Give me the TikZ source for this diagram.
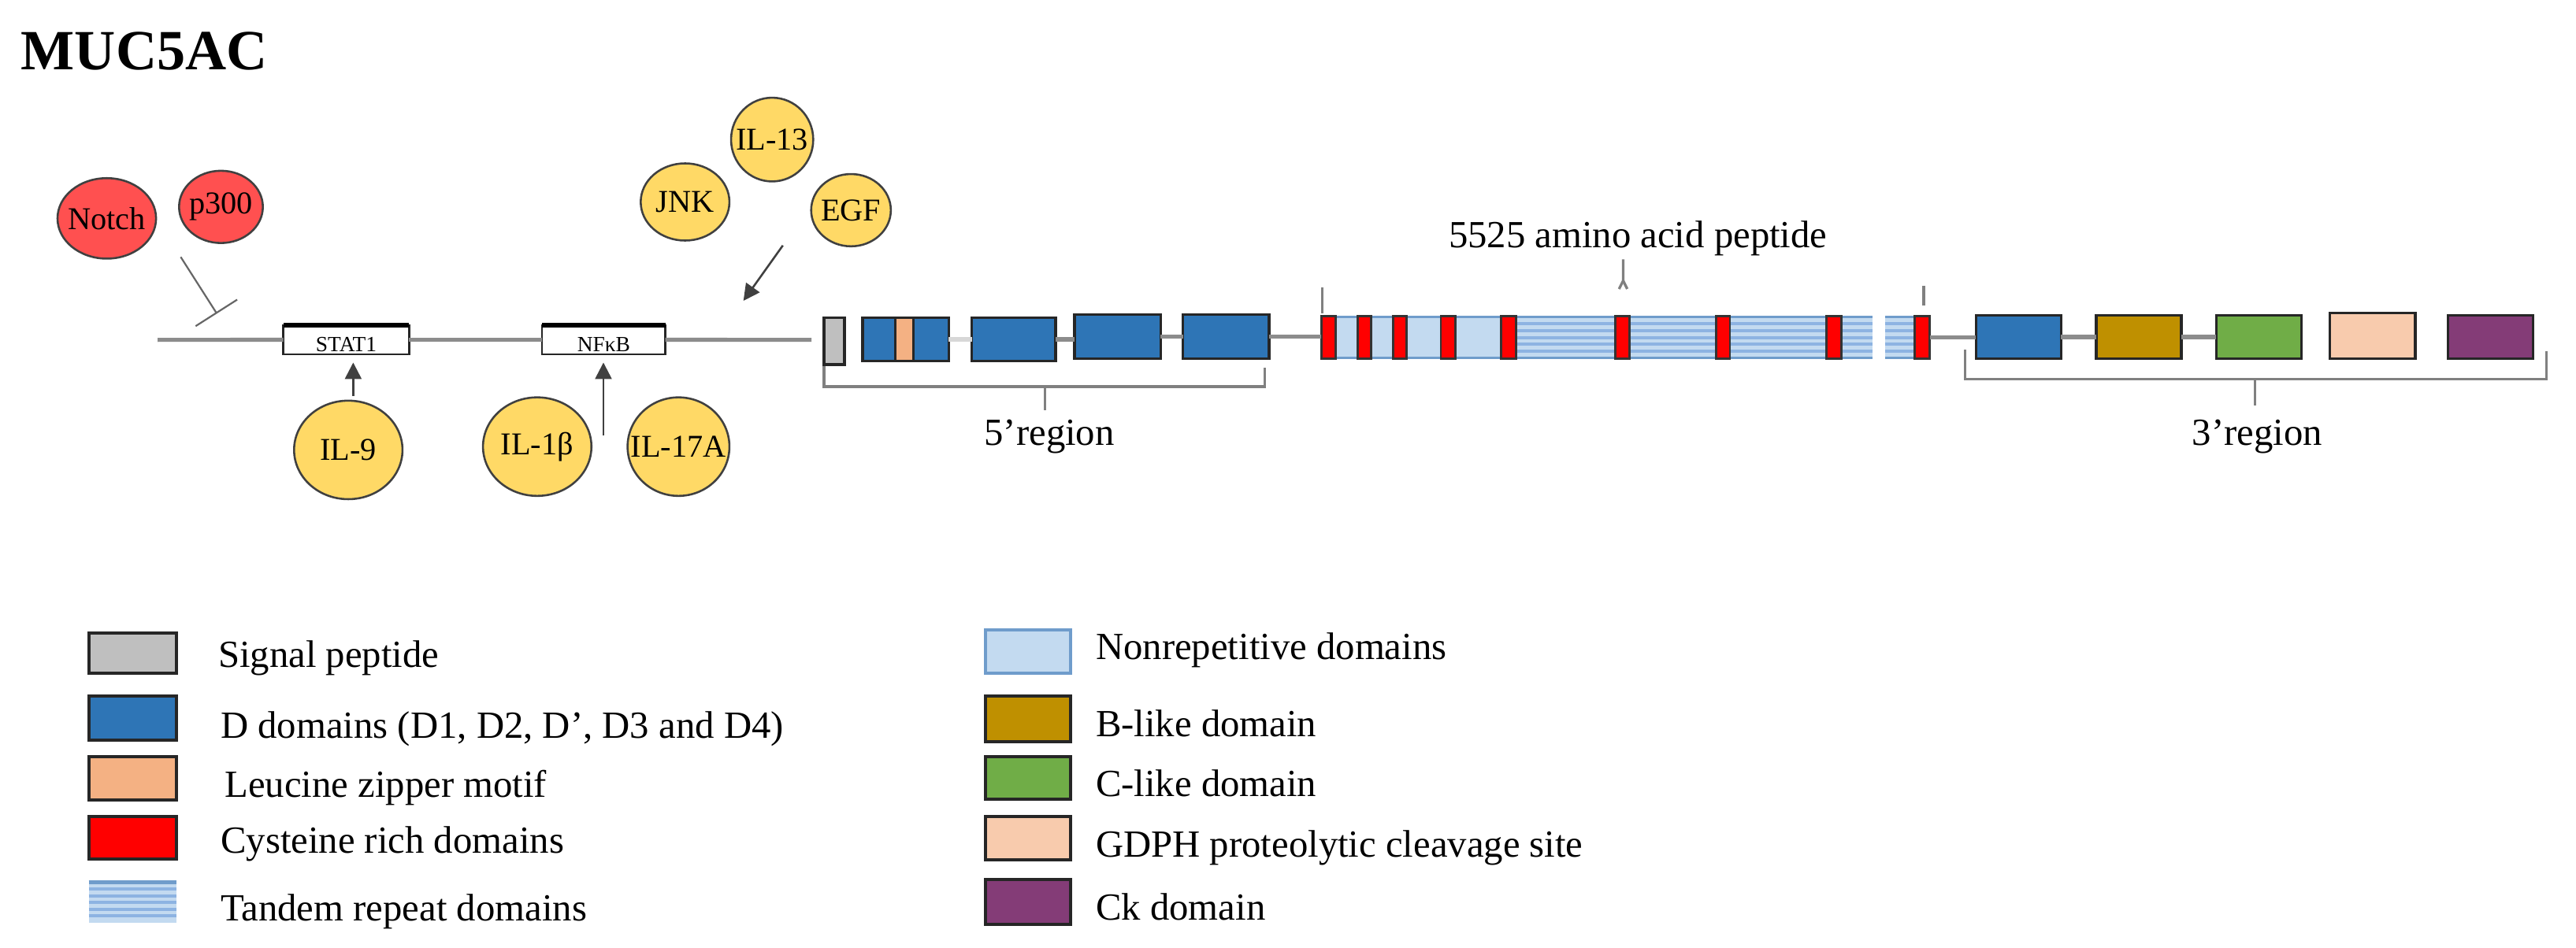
\documentclass[tikz,border=0pt]{standalone}
\usepackage{fontspec}
\setmainfont{Liberation Serif}
\usetikzlibrary{shapes.geometric,arrows.meta}
\definecolor{redc}{HTML}{FF5050}
\definecolor{yelc}{HTML}{FFD966}
\definecolor{dblue}{HTML}{2E75B6}
\definecolor{sgray}{HTML}{BFBFBF}
\definecolor{lzip}{HTML}{F4B183}
\definecolor{lblue}{HTML}{C3DAF0}
\definecolor{sblue}{HTML}{8DB3E2}
\definecolor{eblue}{HTML}{6F9CCB}
\definecolor{bgold}{HTML}{BF9000}
\definecolor{cgreen}{HTML}{70AD47}
\definecolor{gpeach}{HTML}{F8CBAD}
\definecolor{ckpurp}{HTML}{843C77}
\definecolor{gline}{HTML}{8C8C8C}
\newcommand{\mybox}[6]{\node[boxbase,#6,minimum width={(#4-#2)*0.02cm},minimum height={(#5-#3)*0.02cm}] (#1) at ({(#2+#4)/2},{(#3+#5)/2}) {};}
\newcommand{\mystripes}[4]{\foreach \k in {1,...,5}{\draw[stripe] (#1,{#3+\k*(#4-#3)/6}) -- (#2,{#3+\k*(#4-#3)/6});}}
\tikzset{
  boxbase/.style={rectangle, inner sep=0pt, outer sep=0pt},
  dom/.style={draw=black!85, line width=0.9pt},
  leg/.style={draw=black!85, line width=1.1pt},
  circR/.style={ellipse, draw=black!75, line width=0.7pt, fill=redc, inner sep=0pt, font=\fontsize{11}{12}\selectfont},
  circY/.style={ellipse, draw=black!75, line width=0.7pt, fill=yelc, inner sep=0pt, font=\fontsize{11}{12}\selectfont},
  geneline/.style={draw=gline, line width=1.4pt},
  faintline/.style={draw=gline!35, line width=1.4pt},
  brk/.style={draw=black!50, line width=0.9pt},
  arr/.style={-{Triangle[width=0.2cm,length=0.2cm]}, draw=black!75, line width=0.7pt},
  inh/.style={-{Bar[width=0.6cm]}, draw=black!60, line width=0.6pt},
  lbl/.style={font=\fontsize{13.3}{16}\selectfont, inner sep=0pt, anchor=base west},
  clbl/.style={font=\fontsize{13.3}{16}\selectfont, inner sep=0pt, anchor=base},
  tf/.style={draw=black!85, line width=0.7pt, fill=white},
  tft/.style={font=\fontsize{7.5}{8}\selectfont, inner sep=0pt, anchor=base},
  stripe/.style={draw=sblue, line width=1.1pt},
  repedge/.style={draw=eblue, line width=0.8pt},
  cys/.style={draw=black!80, fill=red, line width=0.8pt},
}
\begin{document}
\begin{tikzpicture}[x=0.02cm,y=-0.02cm]
\useasboundingbox (0,0) rectangle (1568,577);
\fill[white] (0,0) rectangle (1568,577);

% title
\node[anchor=base west, inner sep=0pt, font=\bfseries\fontsize{19.7}{22}\selectfont] (title) at (12.5,42.4) {MUC5AC};

% regulators
\node[circR, minimum width=60*0.02cm, minimum height=49*0.02cm] (notch) at (65,133) {\makebox[0pt]{Notch}};
\node[circR, minimum width=51*0.02cm, minimum height=44*0.02cm] (p300) at (134.5,126) {\makebox[0pt]{p300}};
\node[circY, minimum width=50*0.02cm, minimum height=51*0.02cm] (il13) at (470,85) {\makebox[0pt]{IL-13}};
\node[circY, minimum width=54*0.02cm, minimum height=47*0.02cm] (jnk) at (417,123) {\makebox[0pt]{JNK}};
\node[circY, minimum width=48.5*0.02cm, minimum height=44*0.02cm] (egf) at (518,128) {\makebox[0pt]{EGF}};
\node[circY, minimum width=66*0.02cm, minimum height=60*0.02cm] (il9) at (212,274) {\makebox[0pt]{IL-9}};
\node[circY, minimum width=66*0.02cm, minimum height=60*0.02cm] (il1b) at (327,272) {\makebox[0pt]{IL-1β}};
\node[circY, minimum width=62*0.02cm, minimum height=60*0.02cm] (il17a) at (413,272) {\makebox[0pt]{IL-17A}};

% promoter line and TF sites
\coordinate (lS) at (96,207);
\coordinate (lE) at (494,207);
\node[boxbase, tf, minimum width=76.5*0.02cm, minimum height=17.8*0.02cm] (stat1) at (210.75,206.9) {};
\node[boxbase, tf, minimum width=75*0.02cm, minimum height=17.8*0.02cm] (nfkb) at (367.5,206.9) {};
\draw[line width=1.6pt] (stat1.north west) -- (stat1.north east);
\draw[line width=1.6pt] (nfkb.north west) -- (nfkb.north east);
\node[tft] (stat1t) at (210.75,214.3) {STAT1};
\node[tft] (nfkbt) at (367.5,214.3) {NFκB};
\draw[geneline] (lS) -- (stat1.west);
\draw[geneline] (stat1.east) -- (nfkb.west);
\draw[geneline] (nfkb.east) -- (lE);

% regulator connectors
\coordinate (inhS) at (110,156.5);
\coordinate (inhE) at (132,191);
\draw[inh] (inhS) -- (inhE);
\coordinate (egfS) at (476.5,149.5);
\coordinate (egfE) at (452.5,183.2);
\draw[arr] (egfS) -- (egfE);
\coordinate (a9S) at (215,241);
\draw[arr, shorten >=0.1cm] (a9S) -- (a9S |- stat1.south);
\coordinate (aNS) at (367.3,265.4);
\draw[arr, shorten >=0.1cm] (aNS) -- (aNS |- nfkb.south);

% 5' region
\mybox{sig}{501.5}{193.4}{514}{222}{dom, fill=sgray}
\mybox{d1}{525}{193.4}{577.5}{220}{dom, fill=dblue}
\mybox{lz}{545}{193.4}{556}{220}{dom, fill=lzip}
\mybox{d2}{591.5}{193.4}{642.5}{220}{dom, fill=dblue}
\mybox{d3}{654}{191.5}{706.5}{218.5}{dom, fill=dblue}
\mybox{d4}{720}{191.5}{772.5}{218.5}{dom, fill=dblue}
\draw[faintline] (d1.east) -- (d2.west);
\draw[geneline] (d2.east) -- (d3.west |- d2.east);
\draw[geneline] (d3.east) -- (d4.west);

% repeat region
\mybox{rep1}{804}{193}{1140}{218}{fill=lblue}
\mybox{rep2}{1147.6}{193}{1174.6}{218}{fill=lblue}
\mystripes{922}{1140}{193}{218}
\mystripes{1147.6}{1174.6}{193}{218}
\draw[repedge] (rep1.north west) -- (rep1.north east);
\draw[repedge] (rep1.south west) -- (rep1.south east);
\draw[repedge] (rep2.north west) -- (rep2.north east);
\draw[repedge] (rep2.south west) -- (rep2.south east);
\mybox{c1}{804.5}{192.5}{813}{218.5}{cys}
\mybox{c2}{826.5}{192.5}{834.6}{218.5}{cys}
\mybox{c3}{848}{192.5}{856}{218.5}{cys}
\mybox{c4}{877}{192.5}{886}{218.5}{cys}
\mybox{c5}{913.5}{192.5}{922.6}{218.5}{cys}
\mybox{c6}{983}{192.5}{992}{218.5}{cys}
\mybox{c7}{1044.7}{192.5}{1053}{218.5}{cys}
\mybox{c8}{1111.6}{192.5}{1120.7}{218.5}{cys}
\mybox{c9}{1165.5}{192.5}{1174.6}{218.5}{cys}
\draw[geneline] (d4.east) -- (rep1.west |- d4.east);

% 3' region
\mybox{b3d}{1202.7}{192}{1254.6}{218.5}{dom, fill=dblue}
\mybox{bl}{1275.9}{192}{1327.8}{218.5}{dom, fill=bgold}
\mybox{cl}{1349}{192}{1401}{218.5}{dom, fill=cgreen}
\mybox{gd}{1418.2}{190.5}{1470.1}{218.5}{dom, fill=gpeach}
\mybox{ck}{1490}{192}{1542}{218.5}{dom, fill=ckpurp}
\draw[geneline] (rep2.east) -- (b3d.west |- rep2.east);
\draw[geneline] (b3d.east) -- (bl.west);
\draw[geneline] (bl.east) -- (cl.west);

% brackets and labels
\draw[brk] (501.5,222.8) -- (501.5,235.5) -- (770,235.5) -- (770,224);
\draw[brk] (636,235.5) -- (636,250);
\node[clbl] (r5) at (638.75,271) {5’region};
\draw[brk] (1196,213) -- (1196,231) -- (1550,231) -- (1550,214);
\draw[brk] (1372.6,231) -- (1372.6,247);
\node[clbl] (r3) at (1374,271) {3’region};
\draw[brk] (805,175) -- (805,191);
\draw[brk] (988,158) -- (988,171) -- (985.5,176);
\draw[brk] (988,171) -- (990.5,176);
\draw[brk] (1171,174) -- (1171,186);
\node[clbl] (pep) at (997,151) {5525 amino acid peptide};

% legend, left column
\mybox{Lsig}{54}{385.4}{107.5}{410.2}{leg, fill=sgray}
\mybox{Ld}{54}{424}{107.5}{450.8}{leg, fill=dblue}
\mybox{Llz}{54}{460.9}{107.5}{487.2}{leg, fill=lzip}
\mybox{Lcys}{54}{497.4}{107.5}{523.1}{leg, fill=red}
\mybox{Ltr}{54}{537.3}{107.5}{561.8}{fill=lblue}
\mystripes{54}{107.5}{537.3}{561.8}
\draw[repedge, line width=1.3pt] (Ltr.north west) -- (Ltr.north east);
\node[lbl] (tsig) at (132.5,406.3) {Signal peptide};
\node[lbl] (td) at (134,449.6) {D domains (D1, D2, D’, D3 and D4)};
\node[lbl] (tlz) at (136.5,485.5) {Leucine zipper motif};
\node[lbl] (tcys) at (134,519.6) {Cysteine rich domains};
\node[lbl] (ttr) at (134,561) {Tandem repeat domains};

% legend, right column
\mybox{Lnr}{600}{383.5}{651.5}{410.2}{draw=eblue, line width=1.1pt, fill=lblue}
\mybox{Lbl}{600}{424}{651.5}{451.7}{leg, fill=bgold}
\mybox{Lcl}{600}{460.9}{651.5}{486.7}{leg, fill=cgreen}
\mybox{Lgd}{600}{497.4}{651.5}{523.5}{leg, fill=gpeach}
\mybox{Lck}{600}{535.5}{651.5}{563.1}{leg, fill=ckpurp}
\node[lbl] (tnr) at (666.7,401.6) {Nonrepetitive domains};
\node[lbl] (tbl) at (666.7,448.5) {B-like domain};
\node[lbl] (tcl) at (666.7,484.9) {C-like domain};
\node[lbl] (tgd) at (666.7,522.1) {GDPH proteolytic cleavage site};
\node[lbl] (tck) at (666.7,560.1) {Ck domain};
\end{tikzpicture}
\end{document}
